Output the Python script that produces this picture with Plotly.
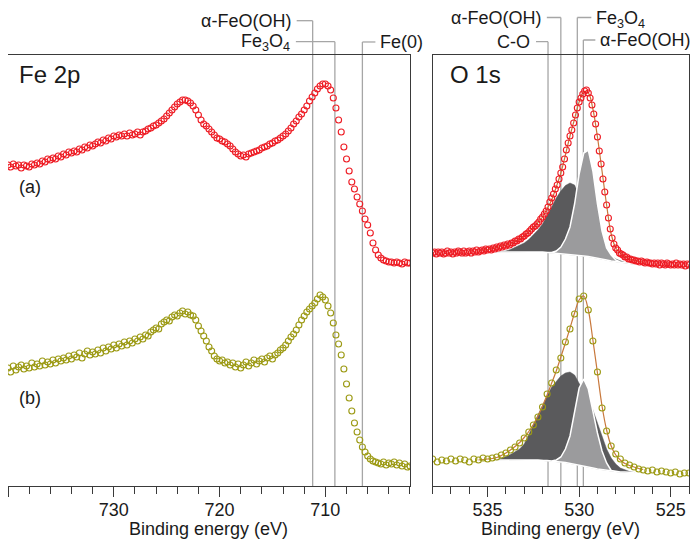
import numpy as np
import plotly.graph_objects as go

# ---------------- data ----------------
# Fe 2p spectra, binding energy grid 740 -> 702 eV, step 0.25 eV
FE_START, FE_STEP = 740.0, 0.25
fe2p_a = [321, 319, 322, 320, 321, 318, 321, 320, 319, 322, 321, 323, 322,
          325, 324, 327, 326, 328, 327, 330, 329, 332, 331, 334, 333,
          335, 334, 337, 336, 339, 338, 341, 340, 342, 344, 343, 346,
          345, 348, 347, 350, 349, 351, 350, 352, 350, 353, 351, 352,
          354, 351, 354, 355, 357, 358, 360, 361, 363, 365, 367, 370,
          373, 376, 379, 382, 384, 386, 386, 385, 383, 380, 376, 371,
          366, 362, 360, 357, 354, 351, 348, 347, 345, 344, 342, 340,
          337, 334, 332, 330, 331, 329, 332, 333, 334, 335, 336, 338,
          339, 340, 342, 343, 345, 346, 348, 350, 352, 355, 358, 362,
          365, 369, 372, 376, 380, 385, 389, 393, 397, 400, 402, 402,
          400, 396, 388, 378, 366, 354, 339, 327, 315, 304, 297, 289,
          282, 275, 267, 261, 253, 243, 236, 231, 228, 226, 225, 224,
          224, 223, 224, 223, 222, 224, 223, 223]
fe2p_b = [118, 114, 120, 116, 119, 121, 117, 120, 118, 123, 119, 122, 120,
          125, 121, 124, 122, 126, 123, 127, 125, 128, 126, 130, 127,
          131, 129, 133, 128, 132, 135, 131, 134, 132, 136, 133, 138,
          135, 139, 137, 141, 138, 142, 140, 144, 141, 145, 143, 147,
          145, 149, 147, 151, 150, 154, 156, 158, 157, 162, 164, 166,
          165, 169, 171, 170, 173, 175, 172, 174, 171, 170, 166, 160,
          155, 150, 145, 139, 135, 130, 127, 125, 126, 123, 124, 121,
          123, 119, 122, 118, 121, 124, 120, 123, 126, 122, 125, 127,
          124, 128, 130, 127, 131, 133, 136, 138, 141, 145, 149, 152,
          156, 161, 166, 170, 174, 177, 180, 183, 187, 191, 189, 186,
          180, 173, 163, 151, 142, 131, 117, 102, 88, 75, 63, 54,
          46, 39, 34, 30, 27, 25, 24, 23, 22, 24, 21, 23,
          22, 24, 21, 23, 20, 22, 19, 20]

# O 1s spectra
OA_START, OA_STEP = 538.0, 0.1
o1s_a = [233, 234, 232, 234, 233, 234, 232, 233, 235, 233,
         234, 232, 234, 233, 235, 234, 233, 235, 233, 234,
         235, 233, 235, 234, 236, 234, 235, 236, 235, 237,
         236, 237, 236, 238, 237, 239, 238, 240, 239, 241,
         240, 242, 241, 243, 243, 245, 245, 247, 247, 249,
         250, 252, 253, 255, 257, 259, 260, 262, 264, 267,
         269, 272, 275, 279, 284, 288, 292, 297, 301, 307,
         313, 319, 327, 336, 343, 350, 356, 363, 371, 378,
         384, 388, 392, 395, 396, 393, 388, 381, 372, 362,
         349, 335, 322, 307, 294, 281, 268, 257, 248, 242,
         238, 236, 233, 232, 231, 229, 229, 227, 227, 226,
         226, 225, 225, 224, 225, 224, 223, 224, 223, 223,
         222, 223, 222, 223, 221, 223, 222, 221, 223, 222,
         221, 222, 221, 223, 221, 222, 221, 222, 220, 222,
         221]
OB_START, OB_STEP = 538.0, 0.25
o1s_b = [27, 24, 26, 25, 27, 25, 27, 26, 24,
         27, 26, 28, 27, 28, 29, 31, 33,
         36, 39, 43, 48, 54, 61, 69, 79,
         92, 103, 116, 128, 144, 157, 172, 187,
         190, 176, 145, 114, 78, 55, 40, 32,
         27, 23, 21, 19, 17, 16, 15, 16,
         14, 15, 14, 13, 14, 12, 13, 13]

# O 1s fitted components on grid 534.5 -> 527.0 eV, step 0.25
COMP_START, COMP_STEP = 534.5, 0.25
base_a = [234, 234, 234, 234, 234, 234, 234, 234, 234, 234,
          234, 234, 233.5, 233, 232.5, 232, 231.5, 231, 230.5, 230, 229.5,
          229, 228, 227, 226, 225, 224, 223.5, 223, 222.5, 222]
dark_a = [234, 234.5, 235, 236.5, 238.5, 240.5, 243, 246.5, 251, 256,
          262, 270, 279, 288, 295, 300.5, 303, 301, 290, 275, 262,
          252, 244, 238, 234, 230, 227, 225, 223.5, 222.5, 222]
light_a = [234, 234, 234, 234, 234, 234, 234, 234, 234, 234, 234, 234,
           233.5, 235, 239, 247, 259, 282, 312, 333, 336, 315, 282,
           255, 238, 231, 226, 224, 223, 222.5, 222]
base_b = [26, 26, 26, 26, 26, 26, 26, 26, 26, 26,
          25.5, 25.5, 25, 24.5, 24, 23.5, 23, 22, 21, 20, 19,
          18, 17, 16, 15.5, 15, 14.5, 14, 14, 13.5, 13.5]
dark_b = [26, 27.5, 29.5, 31.5, 34, 37, 42, 51, 61, 71,
          81, 90, 99, 105, 110, 113, 114, 111, 103, 95, 86,
          76, 63, 50, 37, 28, 22, 18, 16, 14.5, 13.5]
light_b = [26, 26, 26, 26, 26, 26, 26, 26, 26, 26, 25.5, 25.5,
           25, 26, 29, 37, 50, 75, 98, 107, 97, 75, 53,
           35, 23, 15.5, 14.5, 14, 14, 13.5, 13.5]

# O 1s fit envelopes, grid 535.5 -> 526.5 eV, step 0.25
FIT_START, FIT_STEP = 535.5, 0.25
fit_a = [235, 236, 236.5, 237.5, 238.5, 240, 241, 242.5, 244.5, 247, 250, 254,
         258.5, 263.5, 269, 277, 286, 299, 313, 331, 350, 367, 384, 394, 393,
         377, 349, 315, 281, 252, 238, 233, 229.5, 227, 226, 224.5, 224]
fit_b = [26, 26.5, 27, 27.5, 28.5, 30.5, 33, 36, 39.5, 43.5, 48.5, 54.5, 61.5,
         70, 80, 91, 103, 115, 129, 143, 158, 173, 186, 190, 176, 146, 113,
         80, 56, 40, 31, 26, 22.5, 20.5, 19, 17.5, 16.5]

# Reference lines: (energy, label, label y in paper coords, side, connector length px, text y shift)
fe_lines = [(711.2, "α-FeO(OH)", 1.0796, "left", 16, 0),
            (709.1, "Fe<sub>3</sub>O<sub>4</sub>", 1.0309, "left", 39, -1),
            (706.5, "Fe(0)", 1.0302, "right", 13, 0)]
o_lines = [(531.7, "C-O", 1.0309, "left", 12, 0),
           (531.0, "α-FeO(OH)", 1.0870, "left", 14, 0),
           (530.1, "Fe<sub>3</sub>O<sub>4</sub>", 1.0870, "right", 14, -2),
           (529.77, "α-FeO(OH)", 1.0348, "right", 12, 0)]

assert len(fe2p_a) == 153 and len(fe2p_b) == 153
assert len(o1s_a) == 141 and len(o1s_b) == 57
for arr in (base_a, dark_a, light_a, base_b, dark_b, light_b):
    assert len(arr) == 31
assert len(fit_a) == 37 and len(fit_b) == 37


def grid(start, step, n):
    return start - step * np.arange(n)


FONT = "Liberation Sans, Arial, sans-serif"
RED = "#ee1c24"
OLIVE = "#9c9a14"
FIT = "#c8783c"
DARK = "#5a5a5c"
LIGHT = "#9b9b9d"
VLINE = "#a6a6a6"
TXT = "#1a1a1a"

fig = go.Figure()

# ---- Fe 2p panel ----
e_fe = grid(FE_START, FE_STEP, len(fe2p_a))
for ys, col in ((fe2p_a, RED), (fe2p_b, OLIVE)):
    fig.add_trace(go.Scatter(x=e_fe, y=ys, mode="markers", xaxis="x", yaxis="y",
                             marker=dict(symbol="circle-open", size=6, color=col,
                                         line=dict(width=1.1, color=col)),
                             hoverinfo="skip"))

# ---- O 1s panel ----
e_c = grid(COMP_START, COMP_STEP, len(base_a))
e_fit = grid(FIT_START, FIT_STEP, len(fit_a))
e_oa = grid(OA_START, OA_STEP, len(o1s_a))
e_ob = grid(OB_START, OB_STEP, len(o1s_b))
for base, dark, light, fit, ex, ys, col in (
        (base_a, dark_a, light_a, fit_a, e_oa, o1s_a, RED),
        (base_b, dark_b, light_b, fit_b, e_ob, o1s_b, OLIVE)):
    px = list(e_c) + list(e_c[::-1])
    fig.add_trace(go.Scatter(x=px, y=list(dark) + list(base[::-1]), xaxis="x2", yaxis="y2",
                             mode="lines", fill="toself", fillcolor=DARK,
                             line=dict(color=DARK, width=0.5), hoverinfo="skip"))
    fig.add_trace(go.Scatter(x=px, y=list(light) + list(base[::-1]), xaxis="x2", yaxis="y2",
                             mode="lines", fill="toself", fillcolor=LIGHT,
                             line=dict(color="white", width=1.5), hoverinfo="skip"))
    fig.add_trace(go.Scatter(x=e_fit, y=fit, xaxis="x2", yaxis="y2", mode="lines",
                             line=dict(color=FIT, width=1.2, shape="spline"),
                             hoverinfo="skip"))
    fig.add_trace(go.Scatter(x=ex, y=ys, mode="markers", xaxis="x2", yaxis="y2",
                             marker=dict(symbol="circle-open", size=6, color=col,
                                         line=dict(width=1.1, color=col)),
                             hoverinfo="skip"))

shapes = []
annotations = []
for xref, lines in (("x", fe_lines), ("x2", o_lines)):
    for e, label, ly, side, conn, ysh in lines:
        shapes.append(dict(type="line", xref=xref, yref="paper", x0=e, x1=e, y0=0, y1=ly,
                           line=dict(color=VLINE, width=1.3), layer="below"))
        if side == "left":
            x0, x1, xa, xs = -conn, 0, "right", -conn - 4
        else:
            x0, x1, xa, xs = 0, conn, "left", conn + 3
        shapes.append(dict(type="line", xref=xref, yref="paper", xsizemode="pixel",
                           xanchor=e, x0=x0, x1=x1, y0=ly, y1=ly,
                           line=dict(color=VLINE, width=1.3), layer="below"))
        annotations.append(dict(text=label, xref=xref, yref="paper", x=e, y=ly,
                                xanchor=xa, yanchor="middle", xshift=xs, yshift=ysh,
                                showarrow=False,
                                font=dict(size=18, color=TXT, family=FONT)))

for xd, yd, txt, xs, yv, size in (("x domain", "y domain", "Fe 2p", 9, 0.9536, 24),
                                  ("x domain", "y domain", "(a)", 9, 0.6937, 18),
                                  ("x domain", "y domain", "(b)", 9, 0.2042, 18),
                                  ("x2 domain", "y2 domain", "O 1s", 15, 0.9536, 24)):
    annotations.append(dict(text=txt, xref=xd, yref=yd, x=0, y=yv, xanchor="left",
                            yanchor="middle", xshift=xs, showarrow=False,
                            font=dict(size=size, color=TXT, family=FONT)))

# axis titles
for xd in ("x domain", "x2 domain"):
    annotations.append(dict(text="Binding energy (eV)", xref=xd, yref="paper", x=0.5,
                            y=-0.0998, xanchor="center", yanchor="middle", showarrow=False,
                            font=dict(size=18, color=TXT, family=FONT)))

axis_common = dict(showline=True, linecolor="#3a3a3a", linewidth=1, mirror=True,
                   ticks="outside", ticklen=10, tickwidth=1, tickcolor="#3a3a3a",
                   ticklabelstandoff=-3,
                   showgrid=False, zeroline=False,
                   tickfont=dict(size=18, color=TXT, family=FONT))
yaxis_common = dict(showline=True, linecolor="#3a3a3a", linewidth=1, mirror=True,
                    ticks="", showticklabels=False, showgrid=False, zeroline=False,
                    range=[0, 431])

# The page body adds an 8 px margin, so the figure is 8 px smaller and the
# left/top margins are reduced by 8 px to keep the plot frame where it belongs.
fig.update_layout(
    width=690, height=536,
    margin=dict(l=0, r=9, t=47, b=58),
    paper_bgcolor="white", plot_bgcolor="white",
    showlegend=False,
    xaxis=dict(domain=[0, 0.5903], range=[740, 702], dtick=10, tick0=700,
               minor=dict(dtick=2, tick0=700, ticks="outside", ticklen=7,
                          tickcolor="#3a3a3a", showgrid=False),
               **axis_common),
    xaxis2=dict(domain=[0.6236, 1], range=[538, 524], dtick=5, tick0=525, anchor="y2",
                minor=dict(dtick=1, tick0=525, ticks="outside", ticklen=7,
                           tickcolor="#3a3a3a", showgrid=False),
                **axis_common),
    yaxis=dict(domain=[0, 1], anchor="x", **yaxis_common),
    yaxis2=dict(domain=[0, 1], anchor="x2", **yaxis_common),
    shapes=shapes,
    annotations=annotations,
    font=dict(family=FONT),
)

fig.write_html("out.html")
